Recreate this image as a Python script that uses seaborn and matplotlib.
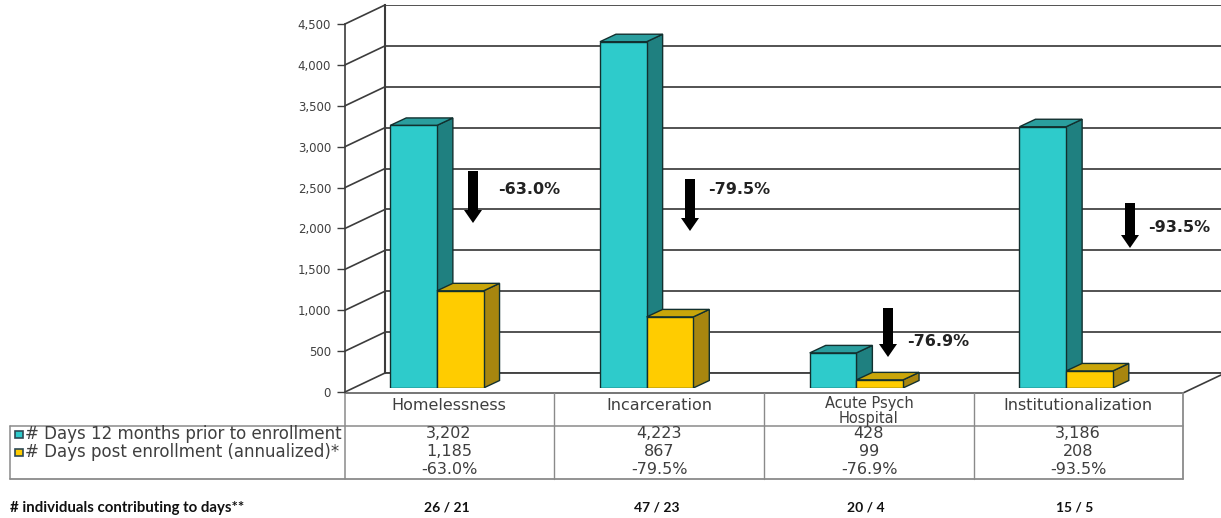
import matplotlib
matplotlib.use("Agg")
import matplotlib.pyplot as plt
import pandas as pd
import seaborn as sns
from matplotlib.patches import Polygon, Rectangle

# Chart values
categories = ["Homelessness", "Incarceration", "Acute Psych\nHospital", "Institutionalization"]
series_names = ["# Days 12 months prior to enrollment", "# Days post enrollment (annualized)*"]
days_prior = [3202, 4223, 428, 3186]
days_post = [1185, 867, 99, 208]
pct_change = ["-63.0%", "-79.5%", "-76.9%", "-93.5%"]
contributors = ["26 / 21", "47 / 23", "20 / 4", "15 / 5"]
footer_label = "# individuals contributing to days**"
value_ticks = [0, 500, 1000, 1500, 2000, 2500, 3000, 3500, 4000, 4500]

# Layout in pixels
W, H = 1221, 518
VMAX = 4500
LINE = "#3c3c3c"
GRID = "#444444"
TABLE = "#8a8a8a"
TEXT = "#3f3f3f"

sns.set_theme(style="white")
plt.rcParams["font.family"] = ["DejaVu Sans"]

fig = plt.figure(figsize=(W / 100, H / 100), dpi=100, facecolor="white")


def px_axes(left, top, right, bottom, z):
    ax = fig.add_axes([left / W, 1 - bottom / H, (right - left) / W, (bottom - top) / H], zorder=z)
    ax.patch.set_alpha(0)
    return ax


# Pixel-space layer for the chart frame and the table
deco = px_axes(0, 0, W, H, 1)
deco.set_xlim(0, W)
deco.set_ylim(H, 0)
deco.axis("off")

# Back wall with its gridlines
back = px_axes(385, 5, 1221, 373, 2)
back.set_ylim(0, VMAX)
back.set_xlim(0, 1)
back.set_yticks(value_ticks)
back.set_xticks([])
back.tick_params(left=False, labelleft=False)
back.grid(axis="y", color=GRID, lw=1.3)
sns.despine(ax=back, top=True, right=True, bottom=True)
back.spines["left"].set_color(LINE)
back.spines["left"].set_linewidth(1.5)

# Front value axis
front = px_axes(345, 24, 1183, 392, 2)
front.set_ylim(0, VMAX)
front.set_xlim(0, 1)
front.set_xticks([])
front.set_yticks(value_ticks)
front.set_yticklabels([f"{v:,}" for v in value_ticks], fontsize=8.5, color=TEXT)
front.tick_params(axis="y", left=True, length=6, width=1, color=LINE, pad=4)
sns.despine(ax=front, top=True, right=True, bottom=True)
front.spines["left"].set_color(LINE)
front.spines["left"].set_linewidth(1.2)

# Side wall and floor edges
for v in value_ticks:
    y = 392 - v * 368 / VMAX
    deco.plot([345, 385], [y, y - 19], color=LINE, lw=1.2)
deco.plot([385, 1221], [373, 373], color=LINE, lw=1.3)
deco.plot([1183, 1221], [393, 375], color=LINE, lw=1.2)

# Table rules
deco.plot([345, 1183], [393, 393], color="#6a6a6a", lw=1.3)
for x in [554, 764, 974]:
    deco.plot([x, x], [393, 479], color=TABLE, lw=1)
deco.plot([345, 345], [393, 479], color=TABLE, lw=1.1)
deco.plot([1183, 1183], [393, 479], color=TABLE, lw=1.3)
deco.plot([10, 10], [426, 479], color=TABLE, lw=1.1)
deco.plot([10, 1183], [426, 426], color=TABLE, lw=1.1)
deco.plot([10, 1183], [479, 479], color=TABLE, lw=1.3)

# Bars
bars = px_axes(332, 19, 1171, 388, 3)
df = pd.DataFrame(
    {
        "category": categories * 2,
        "series": [series_names[0]] * 4 + [series_names[1]] * 4,
        "days": days_prior + days_post,
    }
)
FACE = {series_names[0]: "#2ECBCB", series_names[1]: "#FFCC00"}
sns.barplot(
    data=df, x="category", y="days", hue="series", palette=FACE, hue_order=series_names,
    order=categories, width=0.445, gap=0, saturation=1, legend=False, ax=bars,
    edgecolor="#12302f", linewidth=1,
)
bars.set_xlim(-0.5, 3.5)
bars.set_ylim(0, VMAX)
bars.axis("off")

# Bar depth: side and top faces share the front faces' geometry
DX = 16 / (839 / 4)
DY = 7.5 * VMAX / 369
shades = [("#1F8080", "#2A9E9E"), ("#A8860F", "#C9A60A")]
for z, (container, (side, top)) in enumerate(zip(bars.containers, shades), start=3):
    for rect in container:
        x0, w, h = rect.get_x(), rect.get_width(), rect.get_height()
        rect.set_zorder(z + 0.5)
        x1 = x0 + w
        bars.add_patch(Polygon([(x1, 0), (x1 + DX, DY), (x1 + DX, h + DY), (x1, h)], closed=True,
                               fc=side, ec="#12302f", lw=1, zorder=z))
        bars.add_patch(Polygon([(x0, h), (x0 + DX, h + DY), (x1 + DX, h + DY), (x1, h)], closed=True,
                               fc=top, ec="#12302f", lw=1, zorder=z))

# Text and arrows above the bars
over = px_axes(0, 0, W, H, 4)
over.set_xlim(0, W)
over.set_ylim(H, 0)
over.axis("off")

arrow_spots = [(473, 171, 223), (690, 179, 231), (888, 308, 357), (1130, 203, 248)]
label_spots = [(498, 190), (708, 190), (907, 342), (1148, 227)]
for (ax_x, y0, y1), (lx, ly), pct in zip(arrow_spots, label_spots, pct_change):
    over.add_patch(Polygon(
        [(ax_x - 5, y0), (ax_x + 5, y0), (ax_x + 5, y1 - 13), (ax_x + 9, y1 - 13), (ax_x, y1),
         (ax_x - 9, y1 - 13), (ax_x - 5, y1 - 13)],
        closed=True, fc="black", ec="none"))
    over.text(lx, ly, pct, fontsize=11.5, fontweight="bold", color="#222222", va="center", ha="left")

centers = [449, 659, 869, 1078]
foot_centers = [447, 657, 866, 1075]
TABLE_FS = 11.5
for i, cx in enumerate(centers):
    multiline = "\n" in categories[i]
    over.text(cx, 411 if multiline else 405, categories[i], fontsize=10.5 if multiline else TABLE_FS, color=TEXT,
              ha="center", va="center", linespacing=0.95)
    over.text(cx, 434, f"{days_prior[i]:,}", fontsize=TABLE_FS, color=TEXT, ha="center", va="center")
    over.text(cx, 452, f"{days_post[i]:,}", fontsize=TABLE_FS, color=TEXT, ha="center", va="center")
    over.text(cx, 470, pct_change[i], fontsize=TABLE_FS, color=TEXT, ha="center", va="center")
    over.text(foot_centers[i], 508, contributors[i], fontsize=10, fontweight="bold", color="#111111",
              family="Lato", ha="center", va="center")

# Legend keys inside the table
for y, name, color in zip([434, 452], series_names, ["#2ECBCB", "#FFCC00"]):
    over.add_patch(Rectangle((15, y - 3.5), 8, 7, fc=color, ec="#2f4a55", lw=1.2))
    over.text(25, y, name, fontsize=12, color=TEXT, ha="left", va="center")

over.text(10, 508, footer_label, fontsize=10.8, fontweight="bold", color="#111111", family="Lato",
          ha="left", va="center")

fig.savefig("out.png", dpi=100)
